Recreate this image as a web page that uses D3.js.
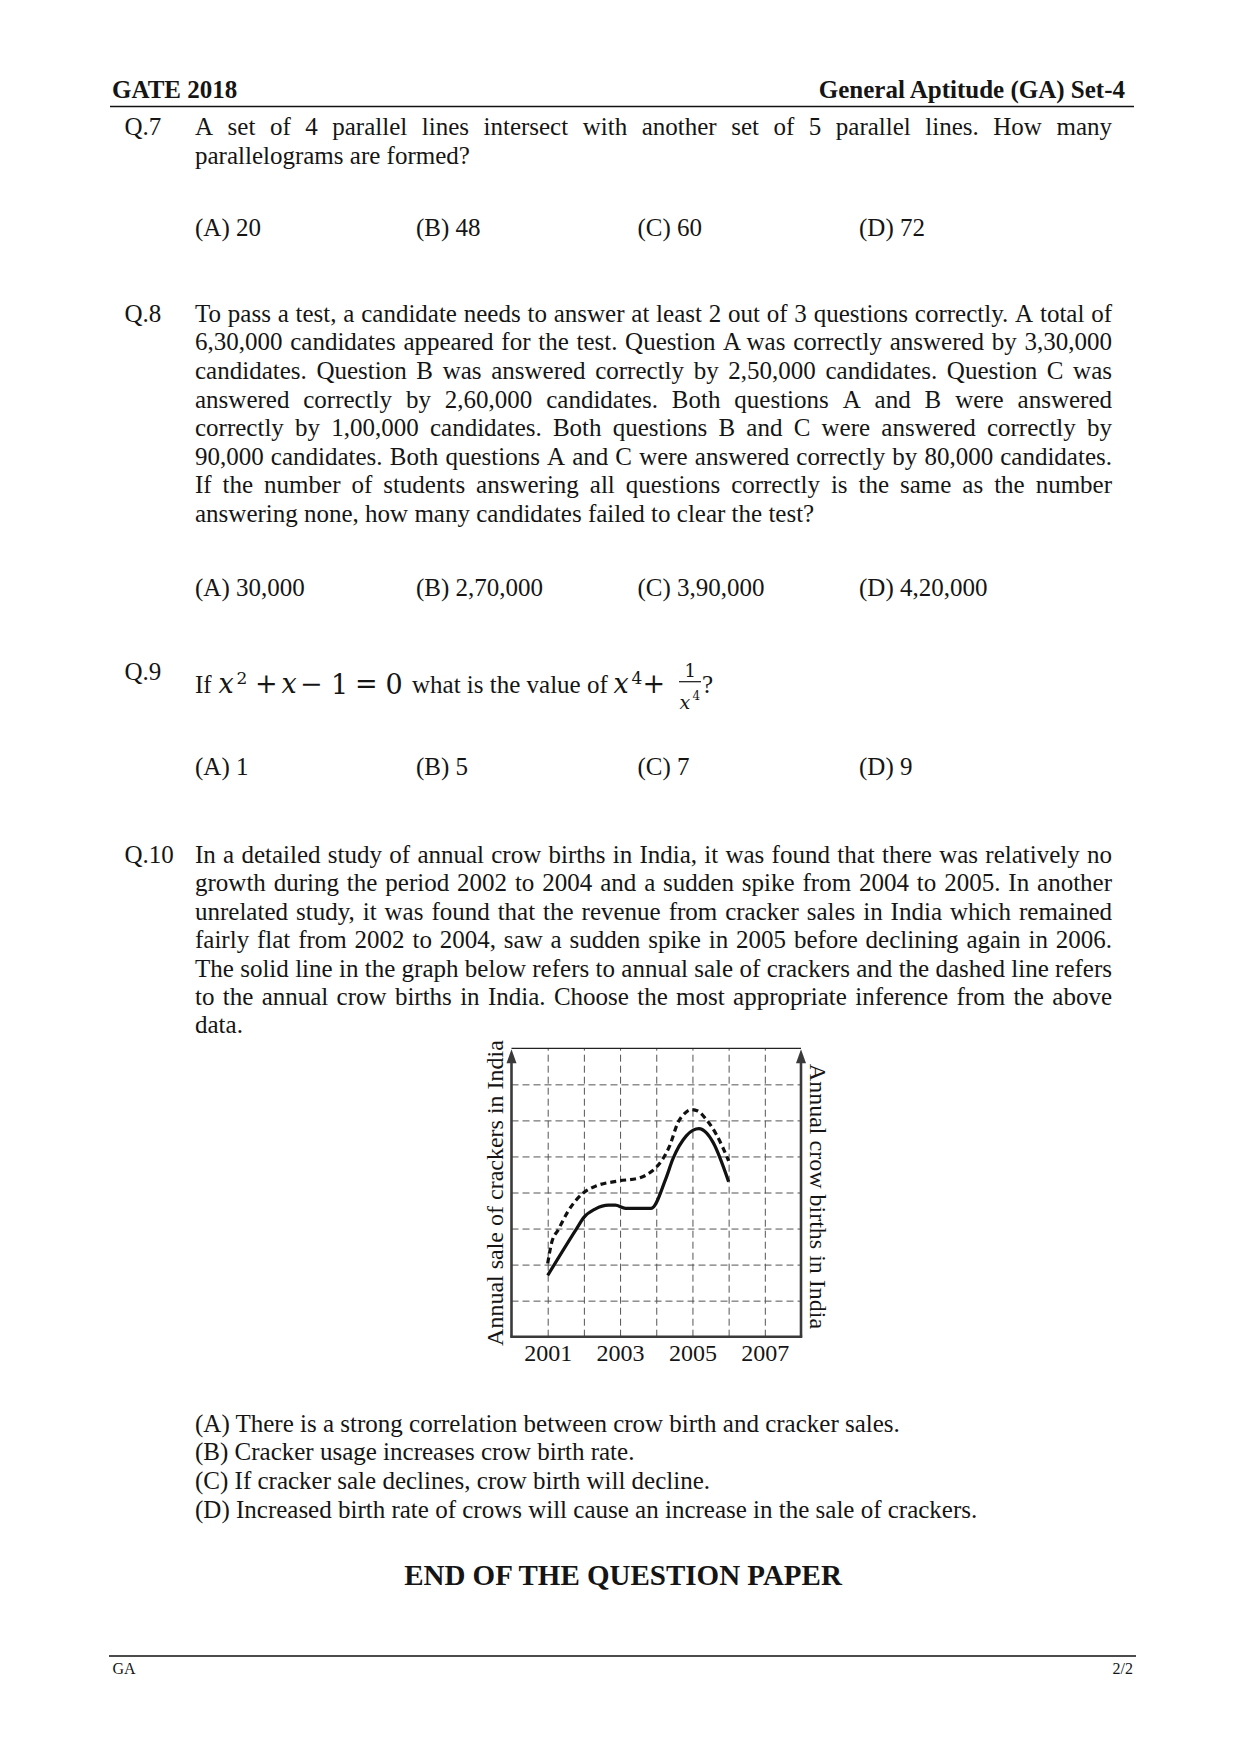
<!DOCTYPE html>
<html>
<head>
<meta charset="utf-8">
<script src="https://cdn.jsdelivr.net/npm/d3@7"></script>
<style>
  body { margin: 0; background: #fff; }
  svg { display: block; }
  text { font-family: "Liberation Serif", "Times New Roman", serif; fill: #151515; }
</style>
</head>
<body>
<div id="wrapper"></div>
<script>
// ---- data ----
const tickYears = [2001, 2003, 2005, 2007];
const gridYears = [2001, 2002, 2003, 2004, 2005, 2006, 2007];
const gridLevels = [1, 2, 3, 4, 5, 6, 7];

// solid line: annual sale of crackers (grid units)
const crackerYears = [2001, 2001.8, 2002, 2002.31, 2002.68, 2002.87, 2003.15, 2003.5, 2003.86, 2004.26, 2004.46, 2004.83, 2005.02, 2005.18, 2005.38, 2005.57, 2006];
const crackerSales = [1.70, 3.0, 3.31, 3.54, 3.65, 3.65, 3.56, 3.56, 3.56, 4.37, 4.93, 5.57, 5.73, 5.77, 5.66, 5.39, 4.30];

// dashed line: annual crow births
const crowYears = [2001, 2001.11, 2001.3, 2001.57, 2002, 2002.31, 2002.96, 2003.52, 2003.84, 2004, 2004.37, 2004.6, 2004.78, 2004.97, 2005.15, 2005.38, 2005.66, 2006];
const crowBirths = [2.03, 2.61, 2.98, 3.49, 4.0, 4.17, 4.32, 4.40, 4.56, 4.70, 5.29, 5.94, 6.19, 6.30, 6.26, 6.03, 5.61, 4.88];

const q7Lines = [
  "A set of 4 parallel lines intersect with another set of 5 parallel lines. How many",
  "parallelograms are formed?"
];
const q7Options = ["(A) 20", "(B) 48", "(C) 60", "(D) 72"];

const q8Lines = [
  "To pass a test, a candidate needs to answer at least 2 out of 3 questions correctly. A total of",
  "6,30,000 candidates appeared for the test. Question A was correctly answered by 3,30,000",
  "candidates. Question B was answered correctly by 2,50,000 candidates. Question C was",
  "answered correctly by 2,60,000 candidates. Both questions A and B were answered",
  "correctly by 1,00,000 candidates. Both questions B and C were answered correctly by",
  "90,000 candidates. Both questions A and C were answered correctly by 80,000 candidates.",
  "If the number of students answering all questions correctly is the same as the number",
  "answering none, how many candidates failed to clear the test?"
];
const q8Options = ["(A) 30,000", "(B) 2,70,000", "(C) 3,90,000", "(D) 4,20,000"];

const q9Options = ["(A) 1", "(B) 5", "(C) 7", "(D) 9"];

const q10Lines = [
  "In a detailed study of annual crow births in India, it was found that there was relatively no",
  "growth during the period 2002 to 2004 and a sudden spike from 2004 to 2005. In another",
  "unrelated study, it was found that the revenue from cracker sales in India which remained",
  "fairly flat from 2002 to 2004, saw a sudden spike in 2005 before declining again in 2006.",
  "The solid line in the graph below refers to annual sale of crackers and the dashed line refers",
  "to the annual crow births in India. Choose the most appropriate inference from the above",
  "data."
];
const q10Options = [
  "(A) There is a strong correlation between crow birth and cracker sales.",
  "(B) Cracker usage increases crow birth rate.",
  "(C) If cracker sale declines, crow birth will decline.",
  "(D) Increased birth rate of crows will cause an increase in the sale of crackers."
];

// ---- page ----
const page = { width: 1241, height: 1754, textLeft: 195, textRight: 1112, labelLeft: 124.5 };
const optionX = [195, 416, 637.5, 859];
const lineStep = 28.6;
const bodySize = 25;

const svg = d3.select("#wrapper").append("svg")
  .attr("width", page.width)
  .attr("height", page.height);

svg.append("rect").attr("width", page.width).attr("height", page.height).attr("fill", "#fff");

// justified line: words spread out to fill the column
function justifyLine(str, y) {
  const words = str.split(" ");
  const t = svg.append("text").attr("y", y).style("font-size", bodySize + "px");
  const spans = t.selectAll("tspan").data(words).join("tspan").text(d => d);
  const widths = spans.nodes().map(n => n.getComputedTextLength());
  const gap = (page.textRight - page.textLeft - d3.sum(widths)) / (words.length - 1);
  let cx = page.textLeft;
  spans.attr("x", (d, i) => { const v = cx; cx += widths[i] + gap; return v; });
}

function plainLine(str, x, y, size) {
  return svg.append("text").attr("x", x).attr("y", y)
    .style("font-size", (size || bodySize) + "px").text(str);
}

function paragraph(lines, y0, step) {
  lines.forEach((l, i) => {
    const y = y0 + i * step;
    if (i < lines.length - 1) justifyLine(l, y);
    else plainLine(l, page.textLeft, y);
  });
}

function options(opts, y) {
  opts.forEach((o, i) => plainLine(o, optionX[i], y));
}

// header
plainLine("GATE 2018", 112, 98).style("font-weight", "bold");
plainLine("General Aptitude (GA) Set-4", 1125, 98).style("font-weight", "bold").attr("text-anchor", "end");
svg.append("line").attr("x1", 110).attr("x2", 1134).attr("y1", 106.5).attr("y2", 106.5)
  .attr("stroke", "#111").attr("stroke-width", 1.5);

// Q.7
plainLine("Q.7", page.labelLeft, 135);
paragraph(q7Lines, 135, lineStep);
options(q7Options, 236);

// Q.8
plainLine("Q.8", page.labelLeft, 321.7);
paragraph(q8Lines, 321.7, lineStep);
options(q8Options, 596);

// Q.9 (math laid out piece by piece)
plainLine("Q.9", page.labelLeft, 680);
const mathFont = "'DejaVu Serif', serif";
const q9 = svg.append("g");
const mathPieces = [
  { t: "If", x: 195, y: 693.3, size: 25, font: null },
  { t: "x", x: 218.6, y: 693.3, size: 27, font: mathFont, italic: true },
  { t: "2", x: 236.4, y: 684, size: 17, font: mathFont },
  { t: "+", x: 255, y: 693.3, size: 27, font: mathFont },
  { t: "x", x: 281.5, y: 693.3, size: 27, font: mathFont, italic: true },
  { t: "\u2212", x: 300, y: 693.3, size: 27, font: mathFont },
  { t: "1", x: 331, y: 694, size: 27, font: mathFont },
  { t: "=", x: 355, y: 693.3, size: 27, font: mathFont },
  { t: "0", x: 385.5, y: 694, size: 27, font: mathFont },
  { t: "what is the value of", x: 412, y: 693.3, size: 25, font: null },
  { t: "x", x: 613.5, y: 693.3, size: 27, font: mathFont, italic: true },
  { t: "4", x: 631.5, y: 684, size: 17, font: mathFont },
  { t: "+", x: 642.5, y: 693.3, size: 27, font: mathFont },
  { t: "1", x: 684.5, y: 677, size: 18, font: mathFont },
  { t: "x", x: 679.5, y: 708.5, size: 19, font: mathFont, italic: true },
  { t: "4", x: 692.5, y: 700, size: 12, font: mathFont },
  { t: "?", x: 702, y: 693.3, size: 25, font: null }
];
q9.selectAll("text").data(mathPieces).join("text")
  .attr("x", d => d.x).attr("y", d => d.y)
  .style("font-size", d => d.size + "px")
  .style("font-family", d => d.font)
  .style("font-style", d => d.italic ? "italic" : null)
  .text(d => d.t);
q9.append("line").attr("x1", 679).attr("x2", 701).attr("y1", 681.7).attr("y2", 681.7)
  .attr("stroke", "#151515").attr("stroke-width", 1.2);
options(q9Options, 775);

// Q.10
plainLine("Q.10", page.labelLeft, 862.7);
paragraph(q10Lines, 862.7, 28.45);

// ---- chart ----
let dimensions = {
  left: 511.5,
  right: 801,
  top: 1048.3,
  bottom: 1336.7
};
dimensions.boundedWidth = dimensions.right - dimensions.left;
dimensions.boundedHeight = dimensions.bottom - dimensions.top;

const bounds = svg.append("g")
  .attr("transform", `translate(${dimensions.left},${dimensions.top})`);

const xScale = d3.scaleLinear().domain([2000, 2008]).range([0, dimensions.boundedWidth]);
const yScale = d3.scaleLinear().domain([0, 8]).range([dimensions.boundedHeight, 0]);

// dashed grid
const xGrid = bounds.append("g")
  .attr("transform", `translate(0,${dimensions.boundedHeight})`)
  .call(d3.axisBottom(xScale).tickValues(gridYears).tickSize(-dimensions.boundedHeight).tickFormat(""));
const yGrid = bounds.append("g")
  .call(d3.axisLeft(yScale).tickValues(gridLevels).tickSize(-dimensions.boundedWidth).tickFormat(""));
[xGrid, yGrid].forEach(g => {
  g.select(".domain").remove();
  g.selectAll(".tick line").attr("stroke", "#555").attr("stroke-width", 1)
    .attr("stroke-dasharray", "7,4");
});

// top border
bounds.append("line")
  .attr("x1", xScale(2000)).attr("x2", xScale(2008))
  .attr("y1", yScale(8)).attr("y2", yScale(8))
  .attr("stroke", "#222").attr("stroke-width", 1.2);

// axes: thick left, right and bottom lines with arrowheads
const axisColor = "#3a3a3a";
[2000, 2008].forEach(yr => {
  bounds.append("line")
    .attr("x1", xScale(yr)).attr("x2", xScale(yr))
    .attr("y1", yScale(0)).attr("y2", yScale(7.7))
    .attr("stroke", axisColor).attr("stroke-width", 2.6);
  const ax = xScale(yr), ay = yScale(8);
  bounds.append("path")
    .attr("d", `M${ax - 5},${ay + 15}L${ax},${ay + 1}L${ax + 5},${ay + 15}Z`)
    .attr("fill", axisColor);
});
bounds.append("line")
  .attr("x1", xScale(2000) - 1.3).attr("x2", xScale(2008) + 1.3)
  .attr("y1", yScale(0)).attr("y2", yScale(0))
  .attr("stroke", axisColor).attr("stroke-width", 2.6);

// year labels
const xAxis = bounds.append("g")
  .attr("transform", `translate(0,${dimensions.boundedHeight})`)
  .call(d3.axisBottom(xScale).tickValues(tickYears).tickSize(0).tickPadding(7).tickFormat(d3.format("d")));
xAxis.select(".domain").remove();
xAxis.selectAll("text")
  .style("font-family", "'Liberation Serif', 'Times New Roman', serif")
  .style("font-size", "24px")
  .attr("fill", "#151515");

// lines
const crackerData = crackerYears.map((d, i) => ({ year: d, value: crackerSales[i] }));
const crowData = crowYears.map((d, i) => ({ year: d, value: crowBirths[i] }));

const lineGenerator = d3.line()
  .x(d => xScale(d.year))
  .y(d => yScale(d.value))
  .curve(d3.curveMonotoneX);

bounds.append("path")
  .datum(crowData)
  .attr("d", lineGenerator)
  .attr("fill", "none")
  .attr("stroke", "#111")
  .attr("stroke-width", 3.2)
  .attr("stroke-dasharray", "6,4");

bounds.append("path")
  .datum(crackerData)
  .attr("d", lineGenerator)
  .attr("fill", "none")
  .attr("stroke", "#111")
  .attr("stroke-width", 3.2)
  .attr("stroke-linejoin", "round");

// axis titles
svg.append("text")
  .attr("transform", "translate(503,1193) rotate(-90)")
  .attr("text-anchor", "middle")
  .style("font-size", "24px")
  .text("Annual sale of crackers in India");
svg.append("text")
  .attr("transform", "translate(810,1196.5) rotate(90)")
  .attr("text-anchor", "middle")
  .style("font-size", "24px")
  .text("Annual crow births in India");

// Q.10 options
q10Options.forEach((o, i) => plainLine(o, page.textLeft, 1431.7 + i * lineStep));

// end line
plainLine("END OF THE QUESTION PAPER", 623, 1585, 29)
  .style("font-weight", "bold").attr("text-anchor", "middle");

// footer
svg.append("line").attr("x1", 109).attr("x2", 1136).attr("y1", 1656).attr("y2", 1656)
  .attr("stroke", "#111").attr("stroke-width", 1.5);
plainLine("GA", 112.5, 1673.5, 16);
plainLine("2/2", 1133, 1673.5, 16).attr("text-anchor", "end");
</script>
</body>
</html>
